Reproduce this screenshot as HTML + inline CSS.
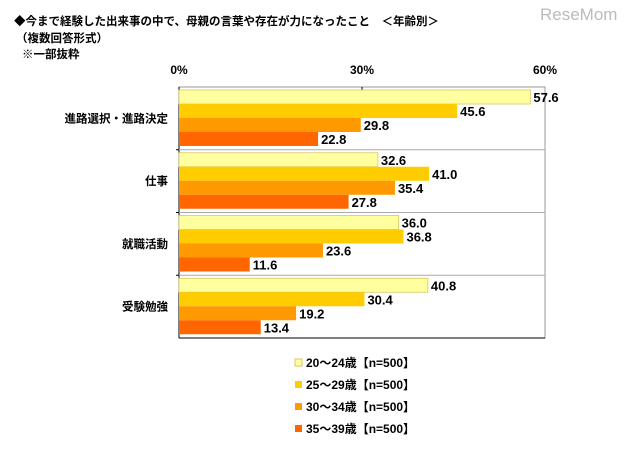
<!DOCTYPE html>
<html><head><meta charset="utf-8"><style>
body{margin:0;background:#fff;width:630px;height:455px;overflow:hidden;font-family:"Liberation Sans","Noto Sans CJK JP",sans-serif;}
</style></head><body>
<svg width="630" height="455" id="c" style="font-family:'Liberation Sans','Noto Sans CJK JP',sans-serif;font-weight:bold">
<text x="14" y="25" font-size="11.5">◆今まで経験した出来事の中で、母親の言葉や存在が力になったこと　＜年齢別＞</text>
<text x="16" y="42" font-size="11.5">（複数回答形式）</text>
<text x="22" y="58" font-size="11.5">※一部抜粋</text>
<text x="540" y="20" font-size="17" font-weight="normal" fill="#bbb">ReseMom</text>
<g id="plot"></g>
</svg>
<script>
const categories=["進路選択・進路決定","仕事","就職活動","受験勉強"];
const s1=[57.6,32.6,36.0,40.8];
const s2=[45.6,41.0,36.8,30.4];
const s3=[29.8,35.4,23.6,19.2];
const s4=[22.8,27.8,11.6,13.4];
const seriesNames=["20～24歳【n=500】","25～29歳【n=500】","30～34歳【n=500】","35～39歳【n=500】"];
const ticks=[0,30,60];
const colors=["#FFFFA0","#FFCC00","#FF9900","#FF6600"];
const NS="http://www.w3.org/2000/svg";
const g=document.getElementById('plot');
const X0=179,X1=545,Y0=87,Y1=338;
const x=v=>X0+(X1-X0)*v/60;
const gh=(Y1-Y0)/categories.length;
function mk(t,a,p){const e=document.createElementNS(NS,t);for(const k in a)e.setAttribute(k,a[k]);(p||g).appendChild(e);return e;}
const series=[s1,s2,s3,s4];
ticks.forEach(t=>{const e=mk('text',{x:x(t),y:74,'text-anchor':'middle','font-size':12});e.textContent=t+'%';

});
const box=mk('rect',{x:X0,y:Y0,width:X1-X0,height:Y1-Y0,fill:'none',stroke:'#999'});


mk('line',{x1:X0,y1:Y0,x2:X0,y2:Y1,stroke:'#000'});
mk('line',{x1:X0,y1:Y1,x2:X1,y2:Y1,stroke:'#000'});
mk('line',{x1:x(30),y1:Y0,x2:x(30),y2:Y0+4,stroke:'#000'});
categories.forEach((c,i)=>{
 const gy=Y0+i*gh;
 if(i>0){mk('line',{x1:X0,y1:gy,x2:X1,y2:gy,stroke:'#aaa'});mk('line',{x1:X0-3,y1:gy,x2:X0,y2:gy,stroke:'#000'});}
 const l=mk('text',{x:168,y:gy+gh/2+4,'text-anchor':'end','font-size':11.5});l.textContent=c;
 
 
 series.forEach((s,j)=>{
  const by=gy+3+j*14;
  const r=mk('rect',{x:X0,y:by,width:x(s[i])-X0,height:14,fill:colors[j],stroke:j==0?'#d8c860':'none','stroke-width':0.8});
  
  
  const t=mk('text',{x:x(s[i])+3,y:by+12,'font-size':13});t.textContent=s[i].toFixed(1);
  
  
 });
});
seriesNames.forEach((n,j)=>{
 const ly=363+j*22;
 const r=mk('rect',{x:295,y:ly-4,width:7,height:7,fill:colors[j],stroke:j==0?'#d8c860':'none'});
 
 
 const t=mk('text',{x:306,y:ly+4,'font-size':12});t.textContent=n;
 
 
});
</script>
</body></html>
